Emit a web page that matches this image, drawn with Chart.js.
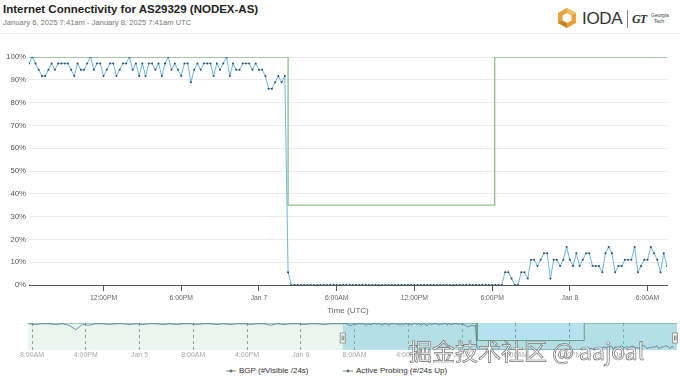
<!DOCTYPE html>
<html>
<head>
<meta charset="utf-8">
<script src="https://cdn.jsdelivr.net/npm/chart.js@4.4.1/dist/chart.umd.min.js"></script>
<style>
  body { margin: 0; width: 680px; height: 381px; overflow: hidden; background: #fff; position: relative;
         font-family: "Liberation Sans", Arial, sans-serif; }
  #head { position: absolute; left: 0; top: 0; width: 680px; height: 33px; border-bottom: 1px solid #eeeeee; }
  #title { position: absolute; left: 3px; top: 3px; font-size: 11.5px; font-weight: bold; color: #222; white-space: nowrap; }
  #sub { position: absolute; left: 3px; top: 18px; font-size: 7.6px; color: #777; white-space: nowrap; }
  #logo { position: absolute; left: 556px; top: 7px; }
  #ioda { position: absolute; left: 582px; top: 9px; font-size: 17px; color: #333; letter-spacing: -0.3px; }
  #sep { position: absolute; left: 627px; top: 10px; width: 1px; height: 18px; background: #888; }
  #gt { position: absolute; left: 632px; top: 12px; font-size: 12px; font-weight: bold; font-style: italic; color: #333;
        font-family: "Liberation Serif", serif; letter-spacing: -1px; }
  #gtt { position: absolute; left: 651px; top: 13px; font-size: 5px; line-height: 5.5px; color: #444; }
  #main { position: absolute; left: 0; top: 34px; }
  #nav { position: absolute; left: 0; top: 318px; }
  #legend { position: absolute; left: 0; top: 366px; width: 680px; height: 12px; font-size: 8px; color: #333; }
  .item { position: absolute; top: 0; white-space: nowrap; }
  .item svg { vertical-align: middle; margin-right: 3px; }
  #wm { position: absolute; left: 409px; top: 333px; font-family: "Noto Sans CJK SC", sans-serif; font-size: 23px;
        color: #fff; -webkit-text-stroke: 0.7px #6c6c6c; white-space: nowrap; opacity: 0.95; }
</style>
</head>
<body>
<div id="head">
  <div id="title">Internet Connectivity for AS29329 (NODEX-AS)</div>
  <div id="sub">January 6, 2025 7:41am - January 8, 2025 7:41am UTC</div>
  <svg id="logo" width="22" height="22" viewBox="0 0 22 22">
    <polygon points="11,1 20,6 20,16 11,21 2,16 2,6" fill="#e9a23b"/>
    <polygon points="11,6 15.5,8.5 15.5,13.5 11,16 6.5,13.5 6.5,8.5" fill="#fff"/>
    <polygon points="11,1 20,6 15.5,8.5 11,6" fill="#f3c060"/>
    <polygon points="2,16 6.5,13.5 11,16 11,21" fill="#c9812a"/>
  </svg>
  <div id="ioda">IODA</div>
  <div id="sep"></div>
  <div id="gt">GT</div>
  <div id="gtt">Georgia<br>&nbsp;&nbsp;Tech</div>
</div>

<canvas id="main" width="680" height="284"></canvas>
<canvas id="nav" width="680" height="44"></canvas>

<div id="legend">
  <span class="item" style="left:226px"><svg width="10" height="6"><line x1="0" y1="3" x2="10" y2="3" stroke="#7f8c8c" stroke-width="1"/><circle cx="5" cy="3" r="1.4" fill="#5f6f6f"/></svg>BGP (#Visible /24s)</span>
  <span class="item" style="left:343px"><svg width="10" height="6"><line x1="0" y1="3" x2="10" y2="3" stroke="#7f8c8c" stroke-width="1"/><circle cx="5" cy="3" r="1.4" fill="#5f6f6f"/></svg>Active Probing (#/24s Up)</span>
</div>

<div id="wm">掘金技术社区 @ aajoal</div>

<script>
// hours counted from Jan 6 2025 00:00 UTC
const viewMin = 6.25;
const viewMax = 55.5;
const navMin = -40.6;
const navMax = 56;

const tickHours = [12, 18, 24, 30, 36, 42, 48, 54];
const tickLabels = ['12:00PM', '6:00PM', 'Jan 7', '6:00AM', '12:00PM', '6:00PM', 'Jan 8', '6:00AM'];

const navTickHours = [-40, -32, -24, -16, -8, 0, 8, 16, 24, 32, 40, 48];
const navTickLabels = ['8:00AM', '4:00PM', 'Jan 5', '8:00AM', '4:00PM', 'Jan 6', '8:00AM', '4:00PM', 'Jan 7', '8:00AM', '4:00PM', 'Jan 8'];

// BGP (#Visible /24s) - step series
const bgpHours = [-40.6, 26.25, 26.25, 42.2, 42.2, 56];
const bgpValues = [100, 100, 35, 35, 100, 100];

// Active Probing (#/24s Up) - 15 minute rounds from Jan 6 6:15am
const probeStart = 6.25;
const probeStep = 0.25;
const probeValues = [
  97.2, 100, 97.2, 94.4, 91.7, 91.7, 94.4, 97.2, 94.4, 97.2,
  97.2, 97.2, 97.2, 94.4, 91.7, 97.2, 94.4, 94.4, 97.2, 100,
  94.4, 97.2, 97.2, 91.7, 94.4, 97.2, 97.2, 91.7, 94.4, 97.2,
  97.2, 100, 94.4, 97.2, 91.7, 97.2, 91.7, 97.2, 97.2, 94.4,
  97.2, 91.7, 97.2, 100, 94.4, 97.2, 94.4, 91.7, 97.2, 97.2,
  88.9, 94.4, 97.2, 94.4, 97.2, 97.2, 97.2, 91.7, 97.2, 94.4,
  97.2, 100, 91.7, 97.2, 94.4, 94.4, 97.2, 97.2, 97.2, 94.4,
  97.2, 94.4, 94.4, 91.7, 86.1, 86.1, 88.9, 91.7, 88.9, 91.7,
  5.6, 0, 0, 0, 0, 0, 0, 0, 0, 0,
  0, 0, 0, 0, 0, 0, 0, 0, 0, 0,
  0, 0, 0, 0, 0, 0, 0, 0, 0, 0,
  0, 0, 0, 0, 0, 0, 0, 0, 0, 0,
  0, 0, 0, 0, 0, 0, 0, 0, 0, 0,
  0, 0, 0, 0, 0, 0, 0, 0, 0, 0,
  0, 0, 0, 0, 0, 0, 0, 5.6, 5.6, 2.8,
  0, 0, 5.6, 5.6, 2.8, 11.1, 11.1, 8.3, 11.1, 13.9,
  13.9, 2.8, 11.1, 11.1, 8.3, 11.1, 16.7, 11.1, 8.3, 13.9,
  8.3, 11.1, 13.9, 13.9, 8.3, 8.3, 8.3, 5.6, 13.9, 16.7,
  13.9, 5.6, 8.3, 8.3, 11.1, 11.1, 11.1, 16.7, 5.6, 8.3,
  11.1, 11.1, 16.7, 13.9, 11.1, 5.6, 13.9, 8.3
];

// earlier active probing, hourly, shown only in the navigator
const priorStart = -40.5;
const priorStep = 1;
const priorValues = [
  97.2, 94.4, 97.2, 97.2, 94.4, 97.2, 91.7, 75.0, 94.4, 91.7,
  97.2, 97.2, 94.4, 97.2, 97.2, 94.4, 97.2, 94.4, 97.2, 97.2,
  94.4, 97.2, 94.4, 97.2, 97.2, 94.4, 97.2, 97.2, 94.4, 97.2,
  94.4, 97.2, 97.2, 94.4, 97.2, 97.2, 91.7, 97.2, 94.4, 97.2,
  97.2, 94.4, 97.2, 97.2, 94.4, 97.2, 97.2
];

const bgpPoints = bgpHours.map((h, i) => ({ x: h, y: bgpValues[i] }));
const probePoints = probeValues.map((v, i) => ({ x: probeStart + i * probeStep, y: v }));
const priorPoints = priorValues.map((v, i) => ({ x: priorStart + i * priorStep, y: v }));

const fontFamily = '"Liberation Sans", Arial, sans-serif';

new Chart(document.getElementById('main'), {
  type: 'line',
  data: {
    datasets: [
      {
        label: 'Active Probing (#/24s Up)',
        data: probePoints,
        borderColor: '#6fb5dd',
        borderWidth: 1,
        pointRadius: 1,
        pointBorderWidth: 0,
        pointBackgroundColor: '#2a4d6e',
        tension: 0
      },
      {
        label: 'BGP (#Visible /24s)',
        data: bgpPoints,
        borderColor: '#8cc08c',
        borderWidth: 1.3,
        pointRadius: 0,
        tension: 0
      }
    ]
  },
  options: {
    responsive: false,
    animation: false,
    events: [],
    layout: { padding: { top: 23, right: 13, left: 0, bottom: 0 } },
    plugins: { legend: { display: false }, tooltip: { enabled: false } },
    scales: {
      x: {
        type: 'linear',
        min: viewMin,
        max: viewMax,
        afterBuildTicks: s => { s.ticks = tickHours.map(v => ({ value: v })); },
        afterFit: s => { s.height = 33; },
        ticks: {
          callback: (v, i) => tickLabels[i],
          autoSkip: false, maxRotation: 0, padding: 3,
          color: '#666', font: { family: fontFamily, size: 6.8 }
        },
        grid: { drawOnChartArea: false, color: '#555', tickLength: 6 },
        border: { color: '#555' },
        title: {
          display: true, text: 'Time (UTC)', color: '#666',
          font: { family: fontFamily, size: 8 }, padding: { top: 0, bottom: 2 }
        }
      },
      y: {
        min: 0,
        max: 100,
        afterFit: s => { s.width = 29; },
        ticks: {
          stepSize: 10, padding: 3,
          callback: v => v + '%',
          color: '#555', font: { family: fontFamily, size: 7.8 }
        },
        grid: { color: '#ebebeb', drawTicks: false },
        border: { display: false }
      }
    }
  }
});

const selectionPlugin = {
  id: 'selection',
  beforeDatasetsDraw(chart) {
    const { ctx, chartArea: a, scales: { x } } = chart;
    const l = x.getPixelForValue(viewMin);
    ctx.save();
    ctx.fillStyle = 'rgba(80,185,220,0.42)';
    ctx.fillRect(l, a.top, a.right - l, a.bottom - a.top);
    ctx.restore();
  },
  afterDraw(chart) {
    const { ctx, chartArea: a, scales: { x } } = chart;
    const spots = [x.getPixelForValue(viewMin), a.right - 2];
    ctx.save();
    spots.forEach(px => {
      ctx.fillStyle = '#f4f4f4';
      ctx.strokeStyle = '#999';
      ctx.lineWidth = 1;
      ctx.fillRect(px - 2.5, 15, 5, 10);
      ctx.strokeRect(px - 2.5, 15, 5, 10);
      ctx.beginPath();
      ctx.moveTo(px - 0.5, 17.5); ctx.lineTo(px - 0.5, 22.5);
      ctx.moveTo(px + 1, 17.5); ctx.lineTo(px + 1, 22.5);
      ctx.strokeStyle = '#888';
      ctx.stroke();
    });
    ctx.restore();
  }
};

new Chart(document.getElementById('nav'), {
  type: 'line',
  data: {
    datasets: [
      {
        data: priorPoints.concat(probePoints),
        borderColor: '#4c7890',
        borderWidth: 0.8,
        pointRadius: 0,
        tension: 0
      },
      {
        data: bgpPoints,
        borderColor: '#5f9a74',
        borderWidth: 0.9,
        pointRadius: 0,
        fill: 'origin',
        backgroundColor: 'rgba(170,215,195,0.25)',
        tension: 0
      }
    ]
  },
  options: {
    responsive: false,
    animation: false,
    events: [],
    layout: { padding: { top: 5, right: 3, left: 28, bottom: 0 } },
    plugins: { legend: { display: false }, tooltip: { enabled: false } },
    scales: {
      x: {
        type: 'linear',
        min: navMin,
        max: navMax,
        afterBuildTicks: s => { s.ticks = navTickHours.map(v => ({ value: v })); },
        afterFit: s => { s.height = 12; },
        ticks: {
          callback: (v, i) => navTickLabels[i],
          autoSkip: false, maxRotation: 0, padding: 1,
          color: '#aaa', font: { family: fontFamily, size: 7 }
        },
        grid: { color: '#8a8a8a', drawTicks: false },
        border: { display: false, dash: [3, 3] }
      },
      y: { display: false, min: 0, max: 100 }
    }
  },
  plugins: [selectionPlugin]
});
</script>
</body>
</html>
